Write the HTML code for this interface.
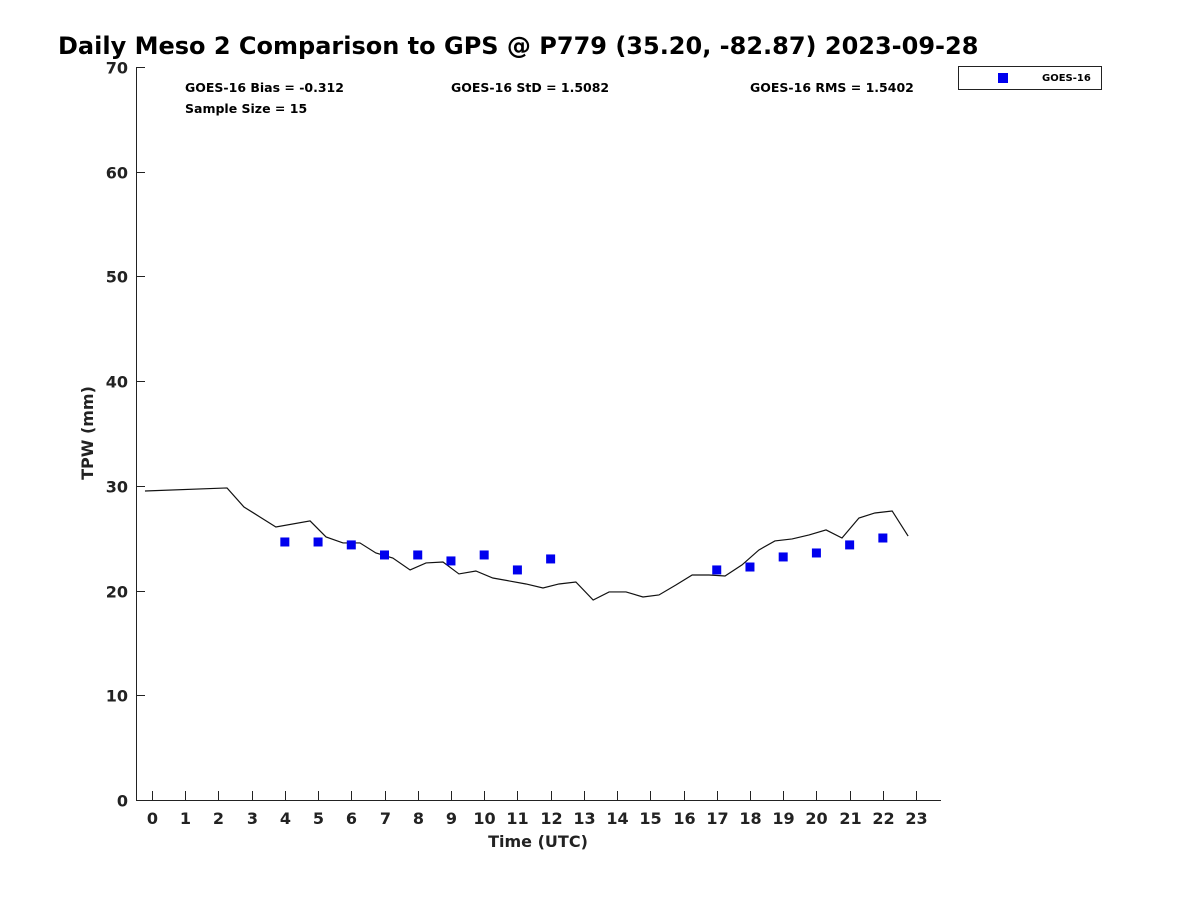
<!DOCTYPE html>
<html><head><meta charset="utf-8"><style>
body{margin:0;background:#fff;font-family:"Liberation Sans",sans-serif;}
text{font-family:"DejaVu Sans","Liberation Sans",sans-serif;font-weight:bold;fill:#222;}
</style></head><body>
<svg id="chart" width="1200" height="900" xmlns="http://www.w3.org/2000/svg">
<text x="58" y="54" font-size="24" style="fill:#000">Daily Meso 2 Comparison to GPS @ P779 (35.20, -82.87) 2023-09-28</text>
<g id="axes"></g>
<g id="marks"></g>
<text x="185" y="92" font-size="12.5" style="fill:#000">GOES-16 Bias = -0.312</text>
<text x="185" y="113" font-size="12.5" style="fill:#000">Sample Size = 15</text>
<text x="451" y="92" font-size="12.5" style="fill:#000">GOES-16 StD = 1.5082</text>
<text x="750" y="92" font-size="12.5" style="fill:#000">GOES-16 RMS = 1.5402</text>
<g>
<rect x="958.5" y="66.5" width="143" height="23" fill="#fff" stroke="#222" stroke-width="1"/>
<rect x="998" y="73" width="10" height="10" fill="#0000ee"/>
<text x="1042" y="81" font-size="10" style="fill:#000">GOES-16</text>
</g>
<text x="538" y="847" font-size="16" text-anchor="middle">Time (UTC)</text>
<text transform="translate(93,433) rotate(-90)" font-size="16" text-anchor="middle">TPW (mm)</text>
</svg>
<script>
const gpsHours=[-0.21,2.26,2.77,3.25,3.73,4.76,5.24,5.75,6.26,6.74,7.25,7.77,8.25,8.76,9.24,9.75,10.26,10.75,11.26,11.77,12.25,12.76,13.28,13.76,14.27,14.78,15.26,15.77,16.26,16.77,17.25,17.76,18.27,18.75,19.27,19.78,20.29,20.77,21.28,21.76,22.28,22.76];
const gpsTpw=[29.51,29.80,27.98,27.03,26.07,26.65,25.12,24.55,24.55,23.59,23.11,21.97,22.64,22.73,21.59,21.87,21.20,20.92,20.63,20.25,20.63,20.82,19.10,19.87,19.87,19.39,19.58,20.53,21.49,21.49,21.39,22.45,23.88,24.74,24.93,25.31,25.79,25.02,26.93,27.41,27.60,25.21];
const goesHours=[4,5,6,7,8,9,10,11,12,17,18,19,20,21,22];
const goesTpw=[24.64,24.64,24.36,23.40,23.40,22.83,23.40,21.97,23.02,21.97,22.25,23.21,23.59,24.36,25.02];
const xTicks=[0,1,2,3,4,5,6,7,8,9,10,11,12,13,14,15,16,17,18,19,20,21,22,23];
const yTicks=[0,10,20,30,40,50,60,70];
const NS='http://www.w3.org/2000/svg';
const X0=136,X1=941,Y0=800,Y1=67,xmin=-0.48,xmax=23.75,ymin=0,ymax=70;
const sx=v=>X0+(v-xmin)/(xmax-xmin)*(X1-X0);
const sy=v=>Y0-(v-ymin)/(ymax-ymin)*(Y0-Y1);
function mk(t,a,p){const e=document.createElementNS(NS,t);for(const k in a)e.setAttribute(k,a[k]);p.appendChild(e);return e;}
const ax=document.getElementById('axes'),mg=document.getElementById('marks');
let l=mk('line',{x1:X0+0.5,y1:Y1,x2:X0+0.5,y2:Y0+0.5,stroke:'#222','stroke-width':1},ax);


l=mk('line',{x1:X0,y1:Y0+0.5,x2:X1,y2:Y0+0.5,stroke:'#222','stroke-width':1},ax);


yTicks.forEach(v=>{const y=Math.round(sy(v))+0.5;
 const t=mk('line',{x1:X0,y1:y,x2:X0+9,y2:y,stroke:'#222'},ax);
 
 
 const tx=mk('text',{x:X0-8,y:y+6,'font-size':16,'text-anchor':'end'},ax);tx.textContent=v;
 
 });
xTicks.forEach(v=>{const x=Math.round(sx(v))+0.5;
 const t=mk('line',{x1:x,y1:Y0,x2:x,y2:Y0-9,stroke:'#222'},ax);
 
 
 const tx=mk('text',{x:x,y:Y0+24,'font-size':16,'text-anchor':'middle'},ax);tx.textContent=v;
 
 });
const pl=mk('polyline',{points:gpsHours.map((h,i)=>sx(h)+','+sy(gpsTpw[i])).join(' '),fill:'none',stroke:'#111','stroke-width':1.2},mg);


goesHours.forEach((h,i)=>{const r=mk('rect',{x:sx(h)-4.5,y:sy(goesTpw[i])-4.5,width:9,height:9,fill:'#0000ee'},mg);
 
 });
</script>
</body></html>
